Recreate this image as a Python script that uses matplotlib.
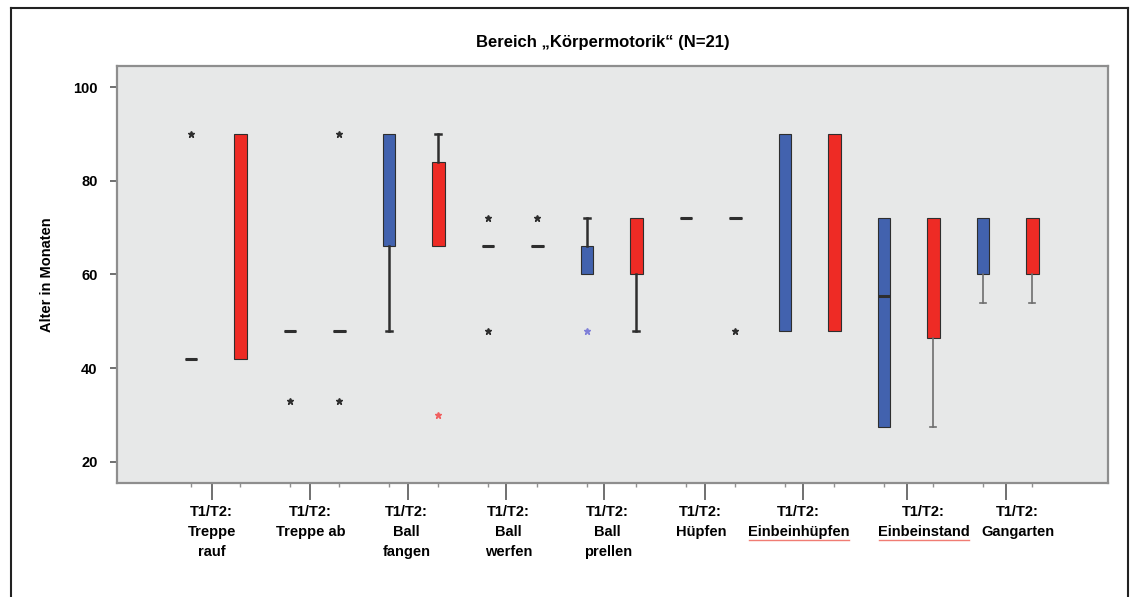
import matplotlib
matplotlib.use("Agg")
import matplotlib.pyplot as plt
from matplotlib.lines import Line2D
from matplotlib.transforms import IdentityTransform, ScaledTranslation

# Kategorien (T1 = blau, T2 = rot)
categories = [
    "T1/T2:\nTreppe\nrauf",
    "T1/T2:\nTreppe ab",
    "T1/T2:\nBall\nfangen",
    "T1/T2:\nBall\nwerfen",
    "T1/T2:\nBall\nprellen",
    "T1/T2:\nHüpfen",
    "T1/T2:\nEinbeinhüpfen",
    "T1/T2:\nEinbeinstand",
    "T1/T2:\nGangarten",
]

# T1
t1_q1 = [42, 48, 66, 66, 60, 72, 48, 27.5, 60]
t1_med = [42, 48, 66, 66, 60, 72, 48, 55.5, 60]
t1_q3 = [42, 48, 90, 66, 66, 72, 90, 72, 72]
t1_lo = [42, 48, 48, 66, 60, 72, 48, 27.5, 54]
t1_hi = [42, 48, 90, 66, 72, 72, 90, 72, 72]
t1_fliers = [[90], [33], [], [72, 48], [48], [], [], [], []]

# T2
t2_q1 = [42, 48, 66, 66, 60, 72, 48, 46.4, 60]
t2_med = [42, 48, 66, 66, 60, 72, 48, 46.4, 60]
t2_q3 = [90, 48, 84, 66, 72, 72, 90, 72, 72]
t2_lo = [42, 48, 66, 66, 48, 72, 48, 27.5, 54]
t2_hi = [90, 48, 90, 66, 72, 72, 90, 72, 72]
t2_fliers = [[], [33, 90], [30], [72], [], [48], [], [], []]

y_ticks = [20, 40, 60, 80, 100]

BLUE = "#4262ae"
RED = "#ee2b25"
DARK = "#2e2e2e"

# Lage der Achsenbeschriftungen (leicht unregelmäßig wie im Original)
tick_shift = [0.21, 0.2, 0.19, 0.18, 0.17, 0.19, 0.18, 0.23, 0.23]
label_dx = [0, 1, -1, 3, 4, -4, -4, 17, 12]


def make_stats(q1, med, q3, lo, hi, fliers):
    return [
        dict(q1=a, med=b, q3=c, whislo=d, whishi=e, fliers=f)
        for a, b, c, d, e, f in zip(q1, med, q3, lo, hi, fliers)
    ]


plt.rcParams["font.family"] = ["Liberation Sans", "DejaVu Sans"]
plt.rcParams["font.weight"] = "bold"

fig = plt.figure(figsize=(11.35, 5.97), dpi=100)
ax = fig.add_axes([117 / 1135, 1 - 483 / 597, (1108 - 117) / 1135, (483 - 66) / 597])
ax.set_facecolor("#e7e8e8")

n = len(categories)
pos_t1 = list(range(n))
pos_t2 = [p + 0.5 for p in pos_t1]

series = [
    (make_stats(t1_q1, t1_med, t1_q3, t1_lo, t1_hi, t1_fliers), pos_t1, BLUE),
    (make_stats(t2_q1, t2_med, t2_q3, t2_lo, t2_hi, t2_fliers), pos_t2, RED),
]
flier_colors = {(0, 4): "#8080d8", (1, 2): "#f06060"}

for s, (stats, pos, col) in enumerate(series):
    res = ax.bxp(
        stats,
        positions=pos,
        widths=0.13,
        capwidths=0.06,
        patch_artist=True,
        manage_ticks=False,
        boxprops=dict(facecolor=col, edgecolor=DARK, linewidth=0.8),
        medianprops=dict(color=DARK, linewidth=2.2),
        whiskerprops=dict(color=DARK, linewidth=1.8),
        capprops=dict(color=DARK, linewidth=1.8),
        flierprops=dict(marker="*", markersize=4.5, markerfacecolor=DARK,
                        markeredgecolor=DARK, linestyle="none"),
    )
    for i, st in enumerate(stats):
        if st["q3"] > st["q1"] and st["med"] in (st["q1"], st["q3"]):
            res["medians"][i].set_visible(False)
        if st["whislo"] == st["q1"]:
            res["caps"][2 * i].set_visible(False)
        if st["whishi"] == st["q3"]:
            res["caps"][2 * i + 1].set_visible(False)
        if i >= 7:
            for w in res["whiskers"][2 * i:2 * i + 2] + res["caps"][2 * i:2 * i + 2]:
                w.set_color("#6e6e6e")
                w.set_linewidth(1.2)
        if (s, i) in flier_colors:
            c = flier_colors[(s, i)]
            res["fliers"][i].set_markerfacecolor(c)
            res["fliers"][i].set_markeredgecolor(c)

ax.set_xlim(-0.747, 9.263)
ax.set_ylim(15.5, 104.5)
ax.set_yticks(y_ticks)
ax.set_xticks([p + d for p, d in zip(pos_t1, tick_shift)])
ax.set_xticklabels(categories, fontsize=10.5, fontweight="bold", linespacing=1.55)
ax.set_xticks(pos_t1 + pos_t2, minor=True)

ax.tick_params(axis="x", which="major", length=12, width=1.4, color="#707070", pad=4)
ax.tick_params(axis="x", which="minor", length=3, width=1.0, color="#909090")
ax.tick_params(axis="y", length=5, width=1.4, color="#707070", pad=9, labelsize=10.5)
for lab in ax.get_yticklabels():
    lab.set_fontweight("bold")

for sp in ax.spines.values():
    sp.set_color("#8e8e8e")
    sp.set_linewidth(1.6)

ax.set_ylabel("Alter in Monaten", fontsize=10.5, fontweight="bold")
ax.yaxis.set_label_coords(-0.064, 0.5)
ax.set_title("Bereich \u201eKörpermotorik\u201c (N=21)", fontsize=12,
             fontweight="bold", pad=14, x=0.49)

# äußerer Rahmen
for xs, ys in [([10.5, 10.5], [0, 589]), ([10.5, 1128], [589, 589]), ([1128, 1128], [0, 589])]:
    fig.add_artist(Line2D([x / 1135 for x in xs], [y / 597 for y in ys],
                          color="#222222", linewidth=1.5))

labels = ax.get_xticklabels()
for lab, dx in zip(labels, label_dx):
    lab.set_transform(lab.get_transform() + ScaledTranslation(dx / 100, 0, fig.dpi_scale_trans))

# rote Unterstreichung (Rechtschreibprüfung)
fig.canvas.draw()
renderer = fig.canvas.get_renderer()
labels = ax.get_xticklabels()
for idx in (6, 7):
    bb = labels[idx].get_window_extent(renderer)
    fig.add_artist(Line2D([bb.x0 + 1, bb.x1 - 1], [bb.y0 - 1, bb.y0 - 1],
                          transform=IdentityTransform(), color="#f07c74", linewidth=1.0))

fig.savefig("out.png", dpi=100)
